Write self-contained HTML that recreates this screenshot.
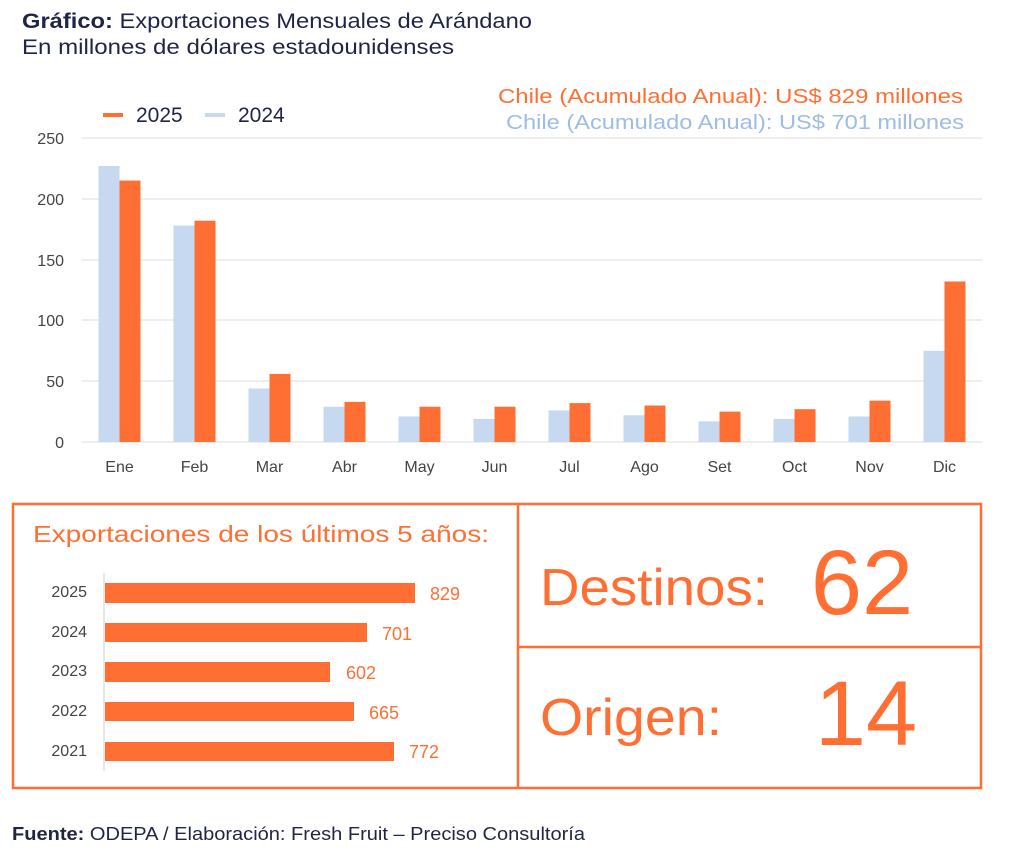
<!DOCTYPE html>
<html><head><meta charset="utf-8"><style>
body{margin:0;width:1024px;height:859px;background:#fff;font-family:"Liberation Sans",sans-serif;overflow:hidden}
</style></head><body>
<svg width="1024" height="859" viewBox="0 0 1024 859" xmlns="http://www.w3.org/2000/svg" font-family="Liberation Sans, sans-serif">
<text x="22" y="28" font-size="21" fill="#1f2545" textLength="510" lengthAdjust="spacingAndGlyphs"><tspan font-weight="bold">Gráfico:</tspan> Exportaciones Mensuales de Arándano</text>
<text x="22" y="54" font-size="21" fill="#1f2545" textLength="432" lengthAdjust="spacingAndGlyphs">En millones de dólares estadounidenses</text>
<text x="498" y="103" font-size="20" fill="#FF6F33" textLength="465" lengthAdjust="spacingAndGlyphs">Chile (Acumulado Anual): US$ 829 millones</text>
<text x="506" y="129" font-size="20" fill="#9DBCE6" textLength="458" lengthAdjust="spacingAndGlyphs">Chile (Acumulado Anual): US$ 701 millones</text>
<rect x="103" y="113" width="20" height="4" fill="#FF6F33"/>
<text x="136" y="122" font-size="21" fill="#1f2545">2025</text>
<rect x="205" y="113" width="20" height="4" fill="#C6D9F1"/>
<text x="238" y="122" font-size="21" fill="#1f2545">2024</text>
<g stroke="#dedede" stroke-width="1">
<line x1="82" x2="982" y1="138" y2="138"/><line x1="82" x2="982" y1="199" y2="199"/><line x1="82" x2="982" y1="260" y2="260"/><line x1="82" x2="982" y1="320" y2="320"/><line x1="82" x2="982" y1="381" y2="381"/><line x1="82" x2="982" y1="442" y2="442"/>
</g>
<g font-size="16" fill="#444" text-anchor="end">
<text x="64" y="144">250</text><text x="64" y="205">200</text><text x="64" y="266">150</text><text x="64" y="326">100</text><text x="64" y="387">50</text><text x="64" y="448">0</text>
</g>
<g id="bars"></g>
<g font-size="16" fill="#444" text-anchor="middle" id="xl"></g>
<rect x="13" y="504" width="968" height="284" fill="none" stroke="#FF6F33" stroke-width="2.5"/>
<line x1="518" y1="504" x2="518" y2="788" stroke="#FF6F33" stroke-width="2.5"/>
<line x1="518" y1="647" x2="981" y2="647" stroke="#FF6F33" stroke-width="2.5"/>
<text x="33" y="542" font-size="23" fill="#FF6F33" textLength="456" lengthAdjust="spacingAndGlyphs">Exportaciones de los últimos 5 años:</text>
<line x1="104" y1="573" x2="104" y2="771" stroke="#ddd" stroke-width="1.5"/>
<g fill="#FF6F33">
<rect x="105" y="583" width="310" height="20"/><rect x="105" y="623" width="262" height="19"/><rect x="105" y="662" width="225" height="20"/><rect x="105" y="702" width="249" height="19"/><rect x="105" y="742" width="289" height="19"/>
</g>
<g font-size="16" fill="#444" text-anchor="end">
<text x="87" y="597">2025</text><text x="87" y="637">2024</text><text x="87" y="676">2023</text><text x="87" y="716">2022</text><text x="87" y="756">2021</text>
</g>
<g font-size="18" fill="#FF6F33">
<text x="430" y="600">829</text><text x="382" y="640">701</text><text x="346" y="679">602</text><text x="369" y="719">665</text><text x="409" y="758">772</text>
</g>
<text x="540" y="605" font-size="52" fill="#FF6F33" textLength="228" lengthAdjust="spacingAndGlyphs">Destinos:</text>
<text x="862" y="614" font-size="92" font-weight="300" fill="#FF6F33" text-anchor="middle">62</text>
<text x="540" y="735" font-size="52" fill="#FF6F33" textLength="182" lengthAdjust="spacingAndGlyphs">Origen:</text>
<text x="866" y="745" font-size="92" fill="#FF6F33" text-anchor="middle">14</text>
<text x="12" y="840" font-size="18" fill="#1f2545" textLength="573" lengthAdjust="spacingAndGlyphs"><tspan font-weight="bold">Fuente:</tspan> ODEPA / Elaboración: Fresh Fruit – Preciso Consultoría</text>
</svg>
<script>
var b=[227,178,44,29,21,19,26,22,17,19,21,75],o=[215,182,56,33,29,29,32,30,25,27,34,132];
var m=["Ene","Feb","Mar","Abr","May","Jun","Jul","Ago","Set","Oct","Nov","Dic"];
var g=document.getElementById("bars"),x=document.getElementById("xl"),ns="http://www.w3.org/2000/svg";
function r(xx,v,f){var e=document.createElementNS(ns,"rect");e.setAttribute("x",xx);e.setAttribute("width",21);var h=v*1.216;e.setAttribute("y",442-h);e.setAttribute("height",h);e.setAttribute("fill",f);g.appendChild(e);}
for(var i=0;i<12;i++){var c=119.5+75*i;
r(c-21,b[i],"#C6D9F1");r(c,o[i],"#FF6F33");
var t=document.createElementNS(ns,"text");t.setAttribute("x",c);t.setAttribute("y",472);t.textContent=m[i];x.appendChild(t);}
</script>
</body></html>
